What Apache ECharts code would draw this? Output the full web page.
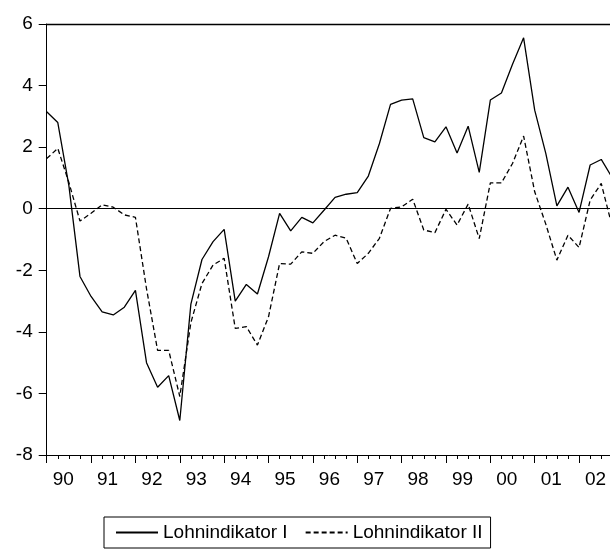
<!DOCTYPE html>
<html>
<head>
<meta charset="utf-8">
<script src="https://cdn.jsdelivr.net/npm/echarts@6/dist/echarts.min.js"></script>
<style>html,body{margin:0;padding:0;background:#fff}#c{width:610px;height:549px}</style>
</head>
<body>
<div id="c"></div>
<script>
// Quarterly observations, 1990Q1 .. 2002Q4
var yearLabels = ['90','91','92','93','94','95','96','97','98','99','00','01','02'];
var seriesNames = ['Lohnindikator I', 'Lohnindikator II'];
var lohnI = [3.15, 2.8, 0.75, -2.2, -2.85, -3.35, -3.45, -3.2, -2.65, -5.0, -5.8, -5.42, -6.88,
  -3.1, -1.65, -1.07, -0.67, -3.0, -2.46, -2.77, -1.56, -0.15, -0.72, -0.28, -0.46, -0.05,
  0.37, 0.47, 0.52, 1.06, 2.12, 3.39, 3.53, 3.57, 2.31, 2.17, 2.66, 1.81, 2.68, 1.18,
  3.53, 3.76, 4.69, 5.55, 3.2, 1.8, 0.09, 0.7, -0.12, 1.42, 1.6, 1.0];
var lohnII = [1.63, 1.96, 0.85, -0.4, -0.15, 0.13, 0.05, -0.2, -0.28, -2.6, -4.6, -4.6, -6.1,
  -3.7, -2.43, -1.83, -1.61, -3.89, -3.83, -4.43, -3.51, -1.78, -1.8, -1.4, -1.45, -1.07,
  -0.86, -0.96, -1.78, -1.45, -0.96, 0.01, 0.06, 0.31, -0.69, -0.78, -0.02, -0.53, 0.15, -0.97,
  0.84, 0.84, 1.47, 2.36, 0.55, -0.5, -1.67, -0.86, -1.26, 0.28, 0.82, -0.6];
var yTicks = {min: -8, max: 6, interval: 2};

function pairs(arr) { return arr.map(function (v, i) { return [i, v]; }); }

var FONT = '"Liberation Sans", Arial, sans-serif';
var chart = echarts.init(document.getElementById('c'), null, {renderer: 'canvas'});
var xMax = 566.3 / 11.15;
chart.setOption({
  animation: false,
  backgroundColor: '#fff',
  grid: {left: 46.7, right: -3, top: 24, bottom: 94, containLabel: false},
  legend: {
    left: 104, top: 517,
    padding: [6, 8, 6, 11],
    borderColor: '#000', borderWidth: 1, borderRadius: 0,
    itemWidth: 42, itemHeight: 12, itemGap: 17,
    itemStyle: {opacity: 0},
    textStyle: {fontFamily: FONT, fontSize: 19, color: '#000'},
    data: seriesNames
  },
  xAxis: [{
    type: 'value', min: 0, max: xMax, interval: 4,
    axisLine: {show: true, onZero: false, lineStyle: {color: '#000', width: 1}},
    axisTick: {show: true, inside: false, length: 8, lineStyle: {color: '#000', width: 1}},
    minorTick: {show: true, splitNumber: 4, length: 4, lineStyle: {color: '#000', width: 1}},
    splitLine: {show: false},
    axisLabel: {
      show: true, margin: 15, padding: [0, 0, 0, 33],
      fontFamily: FONT, fontSize: 19, color: '#000',
      showMaxLabel: false,
      formatter: function (v) { var k = Math.round(v / 4); return (Math.abs(v - 4 * k) < 1e-6 && yearLabels[k]) ? yearLabels[k] : ''; }
    }
  }, {
    type: 'value', position: 'top', min: 0, max: xMax,
    axisLine: {show: true, onZero: false, lineStyle: {color: '#000', width: 1.3}},
    axisTick: {show: false}, axisLabel: {show: false}, splitLine: {show: false}
  }],
  yAxis: {
    type: 'value', min: yTicks.min, max: yTicks.max, interval: yTicks.interval,
    axisLine: {show: true, onZero: false, lineStyle: {color: '#000', width: 1}},
    axisTick: {show: true, inside: false, length: 8, lineStyle: {color: '#000', width: 1}},
    splitLine: {show: false},
    axisLabel: {margin: 14, fontFamily: FONT, fontSize: 19, color: '#000'}
  },
  series: [{
    name: seriesNames[0], type: 'line', data: pairs(lohnI),
    showSymbol: false, symbol: 'none', clip: true,
    lineStyle: {color: '#000', width: 1.3, type: 'solid'},
    itemStyle: {color: '#000'},
    markLine: {
      silent: true, symbol: ['none', 'none'], label: {show: false},
      lineStyle: {color: '#000', width: 1, type: 'solid'},
      data: [{yAxis: 0}]
    }
  }, {
    name: seriesNames[1], type: 'line', data: pairs(lohnII),
    showSymbol: false, symbol: 'none', clip: true,
    lineStyle: {color: '#000', width: 1.3, type: [5, 3]},
    itemStyle: {color: '#000'}
  }]
});
</script>
</body>
</html>
